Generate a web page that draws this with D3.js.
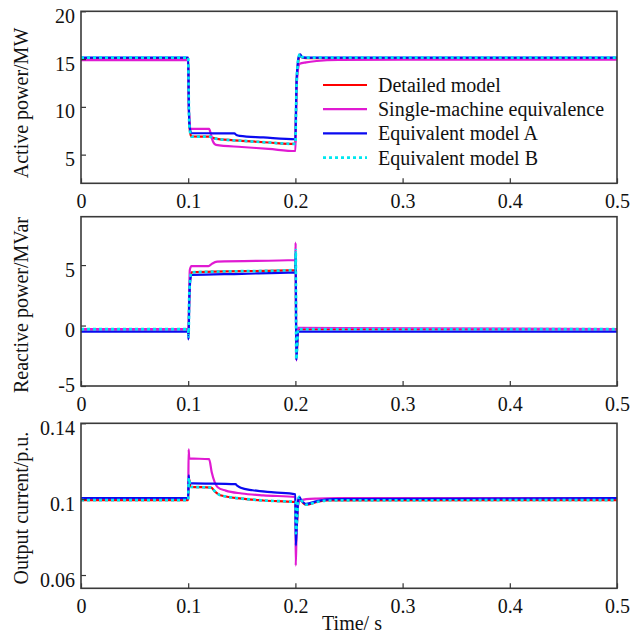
<!DOCTYPE html>
<html lang="en">
<head>
    <meta charset="UTF-8">
    <title>Equivalent model comparison</title>
    <script src="https://cdn.jsdelivr.net/npm/d3@7"></script>
    <style>
        body {
          margin: 0;
          background: #fff;
        }
    </style>
</head>
<body>
    <script>
        // time in s
        let timeTicks = [0, 0.1, 0.2, 0.3, 0.4, 0.5];
        let seriesNames = ['Detailed model', 'Single-machine equivalence', 'Equivalent model A', 'Equivalent model B'];

        // active power / MW
        let pDetailed = [[0,15.08],[0.1,15.08],[0.1005,11],[0.101,8.2],[0.102,7.2],[0.103,6.9],[0.12,6.88],[0.123,6.75],[0.127,6.64],[0.15,6.45],[0.175,6.27],[0.2,6.12],[0.2005,9],[0.201,12],[0.202,14],[0.203,15],[0.2045,15.45],[0.206,15.2],[0.21,15.1],[0.5,15.1]];
        let pSingle = [[0,14.9],[0.1,14.9],[0.1005,10],[0.101,9],[0.102,7.7],[0.1195,7.69],[0.121,7.2],[0.123,6.4],[0.126,6.02],[0.15,5.8],[0.175,5.6],[0.2,5.38],[0.2005,8.5],[0.201,11.5],[0.202,13.5],[0.204,14.5],[0.21,14.65],[0.22,14.8],[0.24,14.92],[0.3,14.95],[0.5,14.95]];
        let pModelA = [[0,15.15],[0.1,15.15],[0.1005,11],[0.101,8.4],[0.102,7.5],[0.103,7.25],[0.143,7.22],[0.145,7.05],[0.148,6.96],[0.17,6.8],[0.2,6.61],[0.2005,9.5],[0.201,12.5],[0.202,14.3],[0.203,15.2],[0.2045,15.5],[0.206,15.2],[0.21,15.15],[0.5,15.15]];
        let pModelB = [[0,15.15],[0.1,15.15],[0.1005,11],[0.101,8.2],[0.102,7.2],[0.103,6.88],[0.12,6.88],[0.123,6.75],[0.127,6.64],[0.15,6.45],[0.175,6.27],[0.2,6.12],[0.2005,9],[0.201,12],[0.202,14.2],[0.203,15.2],[0.2045,15.55],[0.206,15.25],[0.21,15.15],[0.5,15.15]];

        // reactive power / MVar
        let qDetailed = [[0,-0.3],[0.1,-0.3],[0.1003,-0.8],[0.101,2.5],[0.102,4.0],[0.103,4.4],[0.2,4.59],[0.2003,6.0],[0.2008,-2.7],[0.2015,-2.0],[0.2025,-0.3],[0.5,-0.3]];
        let qSingle = [[0,-0.3],[0.1,-0.3],[0.1003,-0.6],[0.101,3],[0.1015,4.6],[0.103,4.92],[0.119,4.92],[0.122,5.1],[0.127,5.28],[0.2,5.42],[0.2002,6.85],[0.2008,-2.9],[0.2015,-1.5],[0.2025,-0.2],[0.5,-0.3]];
        let qModelA = [[0,-0.5],[0.1,-0.5],[0.1003,-1.15],[0.101,2.0],[0.102,3.8],[0.103,4.18],[0.15,4.28],[0.2,4.4],[0.2003,6.0],[0.2008,-2.85],[0.2015,-1.8],[0.2025,-0.5],[0.5,-0.5]];
        let qModelB = [[0,-0.3],[0.1,-0.3],[0.1003,-0.9],[0.101,2.5],[0.102,4.0],[0.103,4.4],[0.2,4.59],[0.2003,6.24],[0.2008,-2.8],[0.2015,-2.0],[0.2025,-0.3],[0.5,-0.3]];

        // output current / p.u.
        let iDetailed = [[0,0.0995],[0.1,0.0995],[0.1005,0.109],[0.101,0.1105],[0.102,0.1065],[0.1215,0.1061],[0.125,0.104],[0.13,0.1021],[0.15,0.1003],[0.17,0.0993],[0.2,0.0985],[0.2005,0.083],[0.2012,0.085],[0.2025,0.098],[0.2035,0.1005],[0.205,0.0995],[0.21,0.097],[0.22,0.0985],[0.23,0.0993],[0.5,0.0995]];
        let iSingle = [[0,0.1005],[0.1,0.1005],[0.1004,0.1262],[0.101,0.1215],[0.1195,0.1211],[0.122,0.114],[0.1275,0.1063],[0.135,0.1045],[0.15,0.103],[0.17,0.102],[0.2,0.1012],[0.2003,0.065],[0.201,0.08],[0.202,0.095],[0.204,0.099],[0.21,0.1],[0.22,0.1003],[0.24,0.1005],[0.5,0.1005]];
        let iModelA = [[0,0.1005],[0.1,0.1005],[0.1005,0.1126],[0.101,0.1085],[0.144,0.1079],[0.146,0.107],[0.149,0.106],[0.16,0.1047],[0.18,0.1036],[0.2,0.1026],[0.2004,0.0756],[0.2012,0.085],[0.2025,0.099],[0.2035,0.1012],[0.2055,0.0995],[0.21,0.0975],[0.22,0.099],[0.235,0.1],[0.5,0.1005]];
        let iModelB = [[0,0.0995],[0.1,0.0995],[0.1005,0.1111],[0.101,0.1105],[0.102,0.1065],[0.1215,0.1061],[0.125,0.104],[0.13,0.1021],[0.15,0.1003],[0.17,0.0993],[0.2,0.0985],[0.2005,0.082],[0.2012,0.086],[0.2025,0.099],[0.2035,0.1012],[0.2055,0.0995],[0.21,0.0971],[0.22,0.0985],[0.23,0.0993],[0.5,0.0995]];

        let pTicks = [5, 10, 15, 20];
        let qTicks = [-5, 0, 5];
        let iTicks = [0.06, 0.1, 0.14];

        let w = 631;
        let h = 633;
        let left = 81;
        let right = 617;
        let serif = '"Liberation Serif", "Times New Roman", Times, serif';

        let colors = ['#ff0000', '#e01ad2', '#0a0af0', '#00e8f0'];

        let panels = [
          { top: 11.3, bottom: 183.3, domain: [2, 20], ticks: pTicks, label: 'Active power/MW', ly: 103,
            data: [pDetailed, pSingle, pModelA, pModelB] },
          { top: 216.7, bottom: 386, domain: [-5, 9], ticks: qTicks, label: 'Reactive power/MVar', ly: 305,
            data: [qDetailed, qSingle, qModelA, qModelB] },
          { top: 423.3, bottom: 588.3, domain: [0.053, 0.14], ticks: iTicks, label: 'Output current/p.u.', ly: 508,
            data: [iDetailed, iSingle, iModelA, iModelB] }
        ];

        let svg = d3.select('body')
                    .append('svg')
                    .attr('width', w)
                    .attr('height', h)
                    .style('font-family', serif)

        let x = d3.scaleLinear().domain([0, 0.5]).range([left, right]);

        function styleText(sel) {
          sel.style('font-family', serif)
             .style('font-size', '20px')
             .style('fill', '#111');
        }

        panels.forEach(function(p, k) {
          let y = d3.scaleLinear().domain(p.domain).range([p.bottom, p.top]);
          let g = svg.append('g');

          let clipId = 'clip' + k;
          svg.append('clipPath').attr('id', clipId)
             .append('rect')
             .attr('x', left).attr('y', p.top)
             .attr('width', right - left).attr('height', p.bottom - p.top);

          let line = d3.line()
                       .x(d => x(d[0]))
                       .y(d => y(d[1]))
                       .curve(d3.curveMonotoneX);

          p.data.forEach(function(s, i) {
            g.append('path')
             .attr('clip-path', 'url(#' + clipId + ')')
             .attr('d', line(s))
             .attr('fill', 'none')
             .attr('stroke', colors[i])
             .attr('stroke-width', i == 3 ? 2.7 : 2.2)
             .attr('stroke-dasharray', i == 3 ? '3,3' : null)
             .attr('stroke-linejoin', 'round');
          });

          // x axis, ticks pointing in
          let xa = g.append('g')
                    .attr('transform', 'translate(0,' + p.bottom + ')')
                    .call(d3.axisBottom(x).tickValues(timeTicks).tickFormat(d => d).tickSize(-5).tickSizeOuter(0).tickPadding(11));
          xa.attr('font-family', null).attr('font-size', null);
          xa.select('.domain').remove();
          xa.selectAll('line').attr('stroke', '#333').attr('stroke-width', 1.2);
          styleText(xa.selectAll('text'));

          let ya = g.append('g')
                    .attr('transform', 'translate(' + left + ',0)')
                    .call(d3.axisLeft(y).tickValues(p.ticks).tickFormat(d => d).tickSize(-5).tickSizeOuter(0).tickPadding(6));
          ya.attr('font-family', null).attr('font-size', null);
          ya.select('.domain').remove();
          ya.selectAll('line').attr('stroke', '#333').attr('stroke-width', 1.2);
          styleText(ya.selectAll('text'));
          ya.selectAll('text').attr('dy', d => y(d) > p.bottom - 2 ? '0.25em' : '0.55em');

          g.append('rect')
           .attr('x', left).attr('y', p.top)
           .attr('width', right - left).attr('height', p.bottom - p.top)
           .attr('fill', 'none')
           .attr('stroke', '#3a3a3a')
           .attr('stroke-width', 1.6);

          g.append('text')
           .attr('transform', 'translate(28,' + p.ly + ') rotate(-90)')
           .attr('text-anchor', 'middle')
           .call(styleText)
           .text(p.label);
        });

        svg.append('text')
           .attr('x', 352)
           .attr('y', 630)
           .attr('text-anchor', 'middle')
           .call(styleText)
           .text('Time/ s');

        // legend
        let legend = svg.append('g').selectAll('g')
                        .data(seriesNames)
                        .enter()
                        .append('g')
                        .attr('transform', (d, i) => 'translate(323,' + (85 + i * 24.2) + ')');

        legend.append('line')
              .attr('x1', 0).attr('x2', 44)
              .attr('stroke', (d, i) => colors[i])
              .attr('stroke-width', (d, i) => i == 3 ? 2.7 : 2.2)
              .attr('stroke-dasharray', (d, i) => i == 3 ? '3,3' : null);

        legend.append('text')
              .attr('x', 55)
              .attr('dy', '0.35em')
              .call(styleText)
              .text(d => d);
    </script>
</body>
</html>
